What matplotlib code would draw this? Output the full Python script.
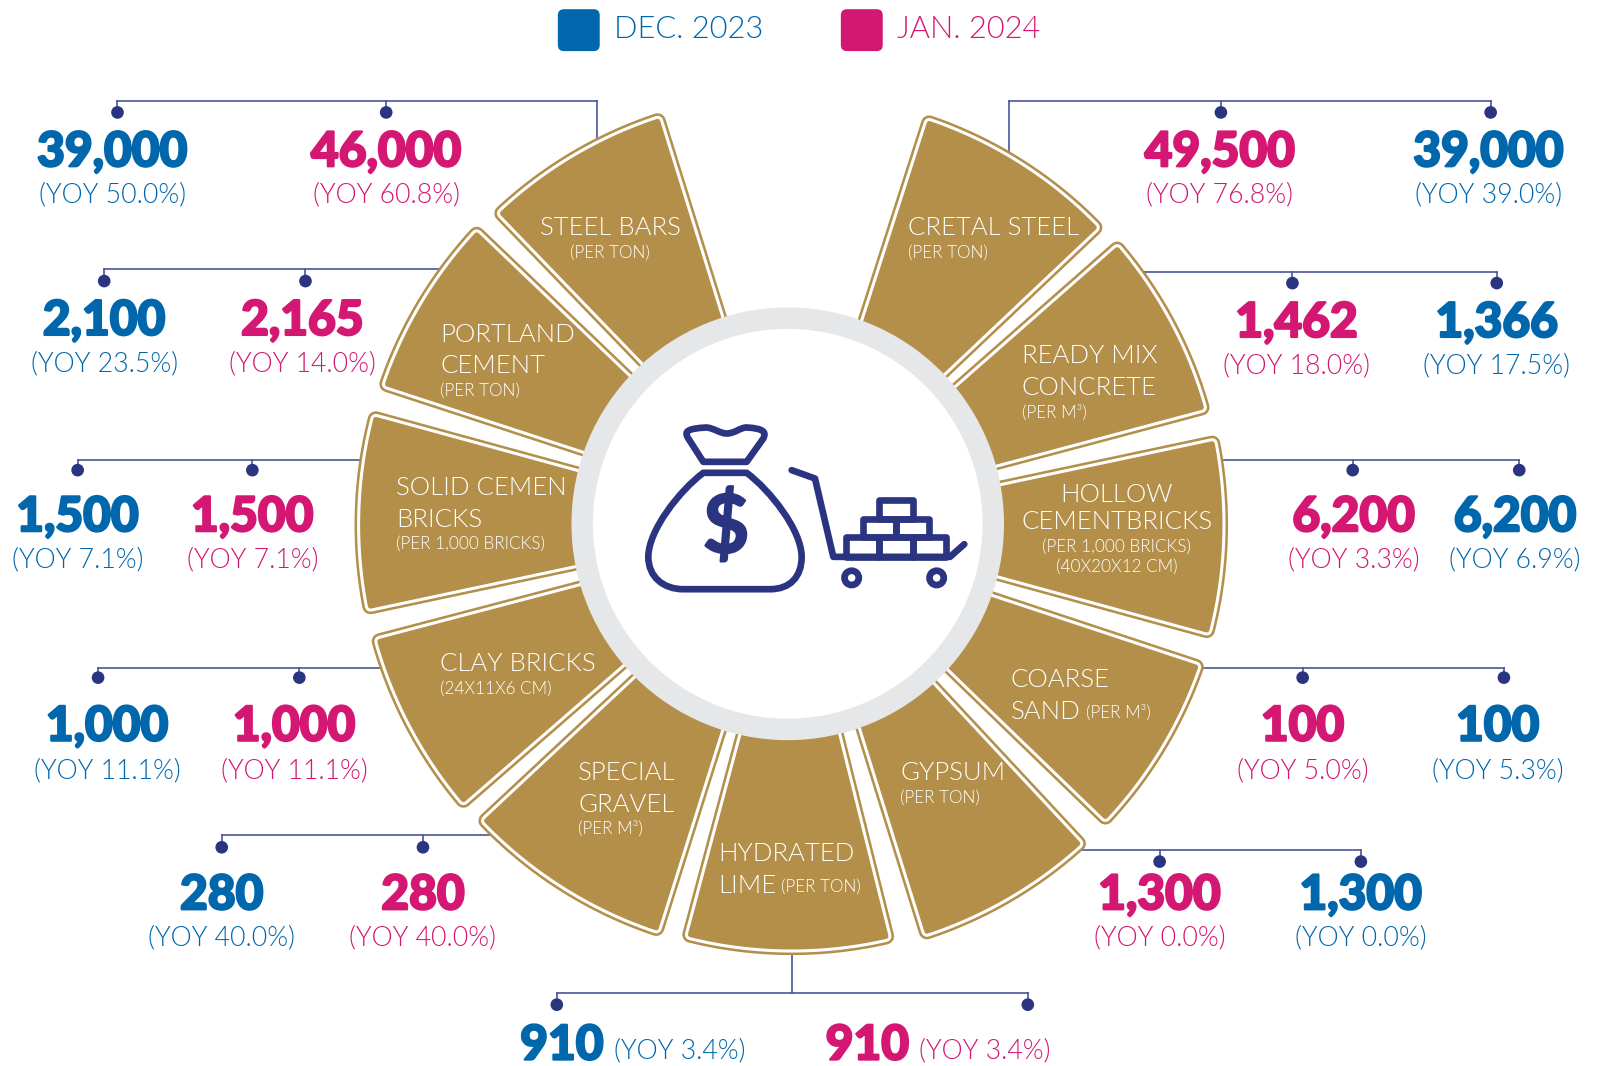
import numpy as np
import matplotlib
matplotlib.use("Agg")
import matplotlib.pyplot as plt
import matplotlib.patheffects as pe
from matplotlib.patches import Polygon, Circle, FancyBboxPatch, PathPatch, Rectangle
from matplotlib.path import Path

# data
categories = ["STEEL BARS", "PORTLAND CEMENT", "SOLID CEMEN BRICKS", "CLAY BRICKS", "SPECIAL GRAVEL",
              "HYDRATED LIME", "GYPSUM", "COARSE SAND", "HOLLOW CEMENTBRICKS", "READY MIX CONCRETE", "CRETAL STEEL"]
dec_values = [39000, 2100, 1500, 1000, 280, 910, 1300, 100, 6200, 1366, 39000]
jan_values = [46000, 2165, 1500, 1000, 280, 910, 1300, 100, 6200, 1462, 49500]
dec_yoy = [50.0, 23.5, 7.1, 11.1, 40.0, 3.4, 0.0, 5.3, 6.9, 17.5, 39.0]
jan_yoy = [60.8, 14.0, 7.1, 11.1, 40.0, 3.4, 0.0, 5.0, 3.3, 18.0, 76.8]
legend_labels = ["DEC. 2023", "JAN. 2024"]

# colours
GOLD = "#B38F4A"
RING = "#E6E7E9"
NAVY = "#2B3480"
LINE = "#4A559C"
BLUE = "#0067AC"
PINK = "#D31772"

# layout, in pixels of the 1568 wide picture
CX, CY = 775, 513.5
wedge_angles = [(107.3, 134), (136.3, 161.9), (164.7, 192), (194.7, 221), (223, 252.5), (255, 284),
                (287.3, 313), (316, 341.7), (344.7, 372), (374.9, 401.3), (403.4, 432.2)]
wedge_radius = [424, 427, 428, 427, 424, 421, 427, 427, 427, 425, 423]
# bracket: line y, left x, right x, stem x, stem end y
brackets = [(99, 115, 584, 584, 142), (263, 102, 437, 437, 263), (450, 76, 360, 360, 450),
            (654, 96, 375, 375, 654), (817, 217, 490, 490, 817), (972, 545, 1006, 775, 930),
            (832, 1050, 1332, 1050, 832), (654, 1175, 1472, 1175, 654), (450, 1190, 1487, 1190, 450),
            (266, 1121, 1465, 1121, 280), (99, 988, 1459, 988, 160)]
# dots and numbers: dot x dec, dot x jan, dot y, text x dec, text x jan, number y, yoy y
value_pos = [(115, 378, 110, 110, 378, 147, 190), (102, 299, 275, 102, 296, 312, 355),
             (76, 247, 460, 76, 247, 504, 547), (96, 293, 663, 105, 288, 709, 753),
             (217, 414, 829, 217, 414, 874, 917), (545, 1006, 983, 550, 849, 1021, 1027),
             (1332, 1135, 843, 1332, 1135, 874, 917), (1472, 1275, 663, 1466, 1275, 709, 753),
             (1487, 1324, 460, 1483, 1325, 504, 547), (1465, 1265, 277, 1465, 1269, 314, 357),
             (1459, 1195, 110, 1457, 1194, 147, 190)]
# wedge texts: text, x, y, size kind, alignment
wedge_texts = [("STEEL BARS", 597, 222, "big", "center"), ("(PER TON)", 597, 246, "small", "center"),
               ("PORTLAND", 431, 326, "big", "left"), ("CEMENT", 431, 357, "big", "left"),
               ("(PER TON)", 431, 381, "small", "left"),
               ("SOLID CEMEN", 388, 476, "big", "left"), ("BRICKS", 388, 507, "big", "left"),
               ("(PER 1,000 BRICKS)", 388, 530, "small", "left"),
               ("CLAY BRICKS", 431, 648, "big", "left"), ("(24X11X6 CM)", 431, 672, "small", "left"),
               ("SPECIAL", 566, 755, "big", "left"), ("GRAVEL", 566, 786, "big", "left"),
               ("(PER M³)", 566, 809, "small", "left"),
               ("HYDRATED", 703, 834, "big", "left"), ("LIME", 703, 865, "big", "left"),
               ("(PER TON)", 764, 866, "small", "left"),
               ("GYPSUM", 881, 755, "big", "left"), ("(PER TON)", 881, 779, "small", "left"),
               ("COARSE", 989, 664, "big", "left"), ("SAND", 989, 695, "big", "left"),
               ("(PER M³)", 1063, 696, "small", "left"),
               ("HOLLOW", 1093, 483, "big", "center"), ("CEMENTBRICKS", 1093, 509, "big", "center"),
               ("(PER 1,000 BRICKS)", 1093, 533, "small", "center"), ("(40X20X12 CM)", 1093, 553, "small", "center"),
               ("READY MIX", 1000, 347, "big", "left"), ("CONCRETE", 1000, 378, "big", "left"),
               ("(PER M³)", 1000, 402, "small", "left"),
               ("CRETAL STEEL", 889, 222, "big", "left"), ("(PER TON)", 889, 246, "small", "left")]

plt.rcParams["font.family"] = ["Lato", "DejaVu Sans"]
px = 1.0217 * 0.72  # one picture pixel in points


def wedge_points(a0, a1, r0, r1, inset):
    # keeps the gaps between the wedges parallel
    left = np.radians(a0) + np.arcsin(inset / np.array([r0, r1 - inset]))
    right = np.radians(a1) - np.arcsin(inset / np.array([r0, r1 - inset]))
    arc = np.linspace(right[1], left[1], 40)
    xs = np.concatenate([[CX + r0 * np.cos(right[0])], CX + (r1 - inset) * np.cos(arc), [CX + r0 * np.cos(left[0])]])
    ys = np.concatenate([[CY - r0 * np.sin(right[0])], CY - (r1 - inset) * np.sin(arc), [CY - r0 * np.sin(left[0])]])
    return np.column_stack([xs, ys])


def zoomed(points):
    pts = np.array(points, dtype=float)
    return np.column_stack([(620 + pts[:, 0] / 3) / 1.0217, (400 + pts[:, 1] / 3) / 1.0217])


def icon_path(points, codes, ax, fill="none"):
    ax.add_patch(PathPatch(Path(zoomed(points), codes), facecolor=fill, edgecolor=NAVY, lw=4.8, joinstyle="round",
                           capstyle="round", zorder=5))


fig = plt.figure(figsize=(16.02, 10.66), dpi=100)
ax = fig.add_axes([0, 0, 1, 1])
ax.set_xlim(0, 1568)
ax.set_ylim(1043, 0)
ax.axis("off")

# brackets with dots
for (y, x0, x1, sx, sy), pos in zip(brackets, value_pos):
    ax.plot([x0, x1], [y, y], color=LINE, lw=1.2, zorder=1)
    ax.plot([sx, sx], [y, sy], color=LINE, lw=1.2, zorder=1)
    for dot_x in pos[:2]:
        ax.plot([dot_x, dot_x], [y, pos[2]], color=LINE, lw=1.2, zorder=1)
        ax.add_patch(Circle((dot_x, pos[2]), 5.5, color=NAVY, zorder=2))

# wedges: same shape stroked three times gives the rounded double outline
for (a0, a1), radius in zip(wedge_angles, wedge_radius):
    pts = wedge_points(a0, a1, 120, radius, 8)
    ax.add_patch(Polygon(pts, closed=True, fc=GOLD, ec=GOLD, lw=16 * px, joinstyle="round", zorder=3))
    ax.add_patch(Polygon(pts, closed=True, fc="white", ec="white", lw=11 * px, joinstyle="round", zorder=3))
    ax.add_patch(Polygon(pts, closed=True, fc=GOLD, ec=GOLD, lw=5 * px, joinstyle="round", zorder=3))

ax.add_patch(Circle((771, 512.5), 211, color=RING, zorder=4))
ax.add_patch(Circle((771, 512.5), 190, color="white", zorder=4))

# money bag
M, L, C, Z = Path.MOVETO, Path.LINETO, Path.CURVE4, Path.CLOSEPOLY
icon_path([(250, 185), (205, 115), (190, 92), (205, 85), (260, 82), (285, 85), (300, 100), (320, 100), (345, 100),
           (360, 82), (380, 82), (430, 85), (440, 95), (430, 115), (380, 185), (250, 185)],
          [M, L, C, C, C, C, C, C, C, C, C, C, C, C, L, Z], ax)
icon_path([(250, 218), (380, 218), (450, 270), (545, 390), (545, 470), (545, 530), (510, 567), (450, 567), (190, 567),
           (130, 567), (85, 530), (85, 470), (85, 390), (180, 270), (250, 218), (250, 218)],
          [M, L, C, C, C, C, C, C, L, C, C, C, C, C, C, Z], ax)
dollar = zoomed([(318, 385)])[0]
ax.text(dollar[0], dollar[1], "$", color=NAVY, fontsize=58, fontweight="bold", ha="center", va="center", zorder=5,
        path_effects=[pe.withStroke(linewidth=1.5, foreground=NAVY)])

# trolley and bricks
icon_path([(515, 210), (585, 235), (640, 470), (990, 470), (1033, 432)], [M, L, L, L, L], ax)
for bx0, by0, bx1, by1 in [(678, 410, 778, 470), (778, 410, 878, 470), (878, 410, 978, 470), (728, 355, 828, 410),
                           (828, 355, 928, 410), (778, 298, 878, 355)]:
    corner = zoomed([(bx0, by0), (bx1, by1)])
    ax.add_patch(Rectangle(corner[0], corner[1][0] - corner[0][0], corner[1][1] - corner[0][1], fc="none", ec=NAVY,
                           lw=4.8, joinstyle="round", zorder=5))
for wx in (695, 950):
    wheel = zoomed([(wx, 533)])[0]
    ax.add_patch(Circle(wheel, 7, fc="none", ec=NAVY, lw=4.8, zorder=5))

# text inside the wedges
for text, x, y, kind, align in wedge_texts:
    ax.text(x, y + 1.5, text, color="white", fontsize=18.5 if kind == "big" else 12.3, fontweight=300, ha=align,
            va="center", zorder=6)


def number(value):
    return "{:,}".format(value)


def value_text(x, y, text, color):
    # Lato is thinner than the poster font, a stroke in the same colour thickens it
    ax.text(x, y + 2, text, color=color, fontsize=34.5, fontweight="black", ha="center", va="center", zorder=6,
            path_effects=[pe.withStroke(linewidth=1.6, foreground=color)])


# values
for i, pos in enumerate(value_pos):
    value_text(pos[3], pos[5], number(dec_values[i]), BLUE)
    value_text(pos[4], pos[5], number(jan_values[i]), PINK)
    side = 115 if categories[i] == "HYDRATED LIME" else 0
    ax.text(pos[3] + side, pos[6] + 1, "(YOY {:.1f}%)".format(dec_yoy[i]), color=BLUE, fontsize=19.2, fontweight=300,
            ha="center", va="center", zorder=6)
    ax.text(pos[4] + side, pos[6] + 1, "(YOY {:.1f}%)".format(jan_yoy[i]), color=PINK, fontsize=19.2, fontweight=300,
            ha="center", va="center", zorder=6)

# legend
for label, x, color in zip(legend_labels, (546, 823), (BLUE, PINK)):
    ax.add_patch(FancyBboxPatch((x + 5, 14), 31, 31, boxstyle="round,pad=5,rounding_size=6", fc=color, ec="none"))
    ax.text(x + 55, 28.5, label, color=color, fontsize=22.2, fontweight=300, ha="left", va="center")

fig.savefig("out.png", dpi=100)
